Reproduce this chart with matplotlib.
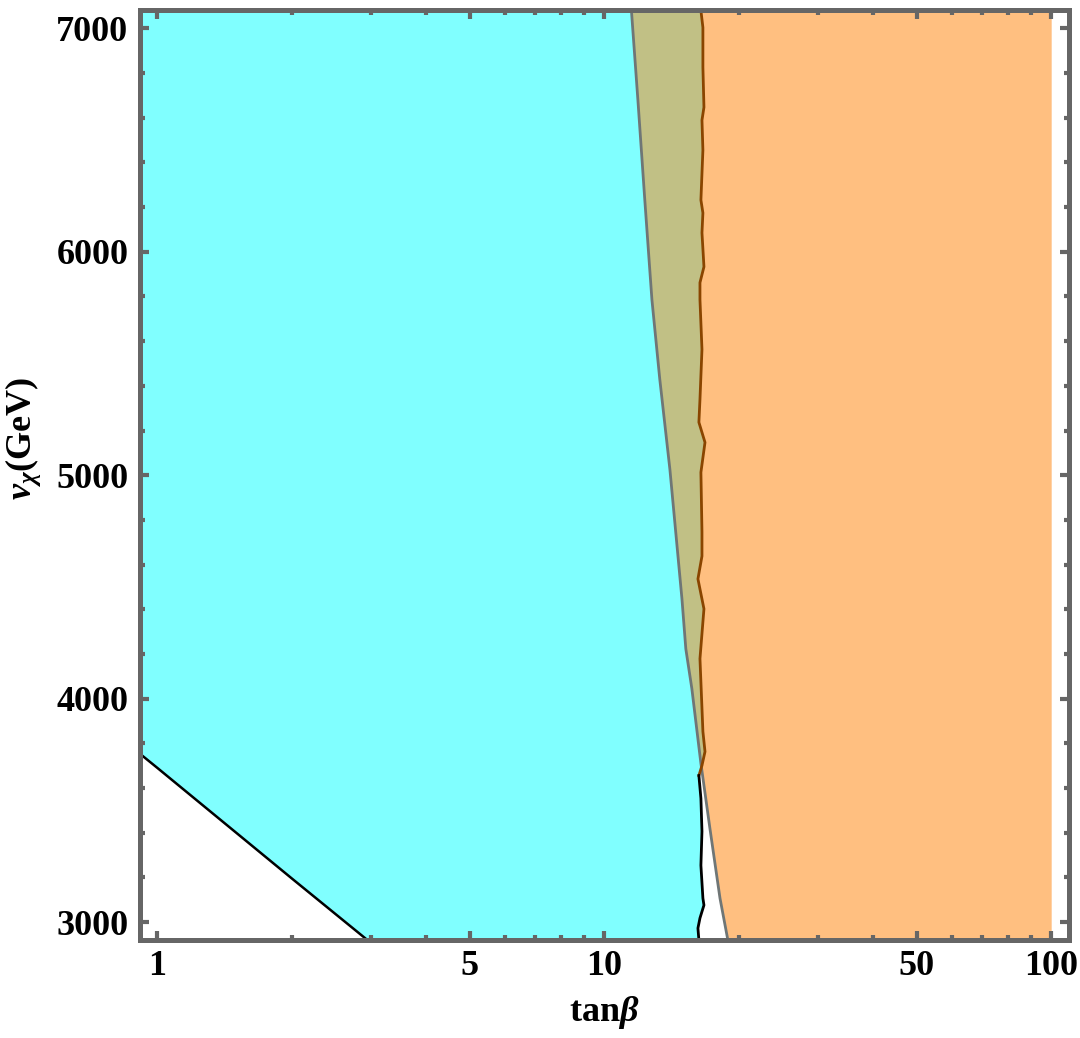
import matplotlib
matplotlib.use("Agg")
import matplotlib.pyplot as plt
import numpy as np
from matplotlib.ticker import FixedLocator, NullFormatter

plt.rcParams['font.family'] = ['Liberation Serif', 'DejaVu Serif']
plt.rcParams['font.weight'] = 'bold'
plt.rcParams['mathtext.fontset'] = 'custom'
plt.rcParams['mathtext.rm'] = 'Liberation Serif:bold'
plt.rcParams['mathtext.it'] = 'Liberation Serif:italic:bold'
plt.rcParams['mathtext.bf'] = 'Liberation Serif:bold'

# 坐标轴范围
x_min, x_max = 0.912, 109.6
y_min, y_max = 2920, 7080

# 青色区域右边界 (棕色/黑色折线)
v_cyan = [7080, 7004, 6826, 6647, 6589, 6455, 6232, 6174, 6085, 5933, 5862, 5786,
          5563, 5339, 5237, 5147, 5013, 4746, 4638, 4536, 4446, 4402, 4179, 3853,
          3763, 3701, 3656, 3554, 3406, 3254, 3107, 3076, 3018, 2973, 2920]
tb_cyan = [16.45, 16.62, 16.62, 16.71, 16.54, 16.62, 16.45, 16.62, 16.54, 16.71, 16.37, 16.37,
           16.54, 16.37, 16.28, 16.80, 16.45, 16.54, 16.54, 16.20, 16.54, 16.71, 16.37, 16.62,
           16.80, 16.54, 16.28, 16.45, 16.54, 16.45, 16.62, 16.71, 16.37, 16.20, 16.28]

# 橙色区域左边界 (灰线)
v_orange = [7080, 6679, 6232, 5786, 5429, 5027, 4446, 4223, 4045, 3710, 3420, 3107, 2920]
tb_orange = [11.50, 11.89, 12.32, 12.78, 13.31, 14.02, 14.92, 15.22, 15.70, 16.45, 17.23, 18.15, 18.90]
tb_orange_max = 100

# 左下角直线
v_low = [3755, 3690, 3195, 2920]
tb_low = [0.912, 1.0, 2.0, 2.95]

# 刻度
x_major = [1, 5, 10, 50, 100]
x_minor = [2, 3, 4, 6, 7, 8, 9, 20, 30, 40, 60, 70, 80, 90]
y_major = [3000, 4000, 5000, 6000, 7000]
y_minor = [3200, 3400, 3600, 3800, 4200, 4400, 4600, 4800, 5200, 5400, 5600, 5800,
           6200, 6400, 6600, 6800]

c_cyan = '#80ffff'
c_orange = '#ffbf80'
c_olive = '#c1c085'
c_frame = '#666666'

fig = plt.figure(figsize=(10.8, 10.38), dpi=100)
ax = fig.add_axes([0.1292, 0.0944, 0.8606, 0.8955])
ax.set_xscale('log')
ax.set_xlim(x_min, x_max)
ax.set_ylim(y_min, y_max)

# 青色区域
poly_x = list(tb_cyan) + list(tb_low[::-1]) + [x_min]
poly_y = list(v_cyan) + list(v_low[::-1]) + [y_max]
ax.fill(poly_x, poly_y, color=c_cyan, lw=0, zorder=1)

# 橙色区域
ax.fill_betweenx(v_orange, tb_orange, tb_orange_max, color=c_orange, lw=0, zorder=1)

# 重叠区域
v_all = np.unique(np.concatenate([v_cyan, v_orange]))
lc = np.interp(v_all, v_cyan[::-1], np.log10(tb_cyan[::-1]))
lo = np.interp(v_all, v_orange[::-1], np.log10(tb_orange[::-1]))
ax.fill_betweenx(v_all, 10 ** lo, 10 ** lc, where=lo < lc, interpolate=True,
                 color=c_olive, lw=0, zorder=2)

# 边界线
ax.plot(tb_orange, v_orange, color='#6f7676', lw=2.0, zorder=3)
v_c = np.array(v_cyan)
tb_c = np.array(tb_cyan)
over = np.interp(v_c, v_orange[::-1], np.log10(tb_orange[::-1])) < np.log10(tb_c)
k = np.where(over)[0].max()
ax.plot(tb_c[:k + 2], v_c[:k + 2], color='#8a4500', lw=2.0, zorder=4)
ax.plot(tb_c[k + 1:], v_c[k + 1:], color='black', lw=2.0, zorder=4)
ax.plot(tb_low, v_low, color='black', lw=1.8, zorder=4)

# 刻度设置
ax.xaxis.set_major_locator(FixedLocator(x_major))
ax.xaxis.set_minor_locator(FixedLocator(x_minor))
ax.set_xticklabels([str(t) for t in x_major])
ax.xaxis.set_minor_formatter(NullFormatter())
ax.yaxis.set_major_locator(FixedLocator(y_major))
ax.yaxis.set_minor_locator(FixedLocator(y_minor))
ax.set_yticklabels([str(t) for t in y_major])
ax.tick_params(which='both', direction='in', color=c_frame, width=3.0,
               top=True, right=True, labelsize=26)
ax.tick_params(which='major', length=6.5)
ax.tick_params(which='minor', length=3.5)
ax.tick_params(axis='y', pad=8)
ax.tick_params(axis='x', pad=7)
for s in ax.spines.values():
    s.set_color(c_frame)
    s.set_linewidth(3.6)
    s.set_zorder(5)

ax.set_xlabel(r'tan$\beta$', fontsize=26, fontweight='bold', labelpad=8)
ax.set_ylabel(r'$v_{\chi}$(GeV)', fontsize=26, fontweight='bold', labelpad=8)
ax.yaxis.set_label_coords(-0.104, 0.54)

fig.savefig('out.png', dpi=100)
